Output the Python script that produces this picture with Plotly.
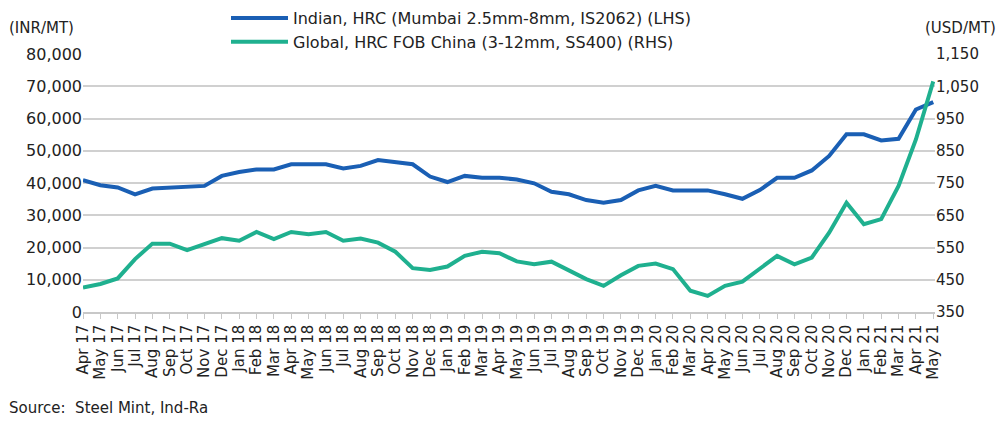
import plotly.graph_objects as go

months = ["Apr 17","May 17","Jun 17","Jul 17","Aug 17","Sep 17","Oct 17","Nov 17","Dec 17",
          "Jan 18","Feb 18","Mar 18","Apr 18","May 18","Jun 18","Jul 18","Aug 18","Sep 18","Oct 18","Nov 18","Dec 18",
          "Jan 19","Feb 19","Mar 19","Apr 19","May 19","Jun 19","Jul 19","Aug 19","Sep 19","Oct 19","Nov 19","Dec 19",
          "Jan 20","Feb 20","Mar 20","Apr 20","May 20","Jun 20","Jul 20","Aug 20","Sep 20","Oct 20","Nov 20","Dec 20",
          "Jan 21","Feb 21","Mar 21","Apr 21","May 21"]

indian_hrc = [40900, 39300, 38600, 36500, 38300, 38600, 38600, 39100, 42200, 43400,
              44200, 44200, 45800, 45800, 45800, 44500, 45300, 47100, 46500, 45800,
              42000, 40300, 42200, 41600, 41600, 41100, 39900, 37300, 36500, 34700,
              33900, 34700, 37700, 39100, 37700, 37700, 37700, 36500, 35100, 37800,
              41600, 41600, 43900, 48400, 55100, 55100, 53200, 53700, 62800, 65100]

global_hrc = [426, 437, 454, 514, 562, 562, 542, 562, 579, 571,
              598, 576, 598, 591, 598, 571, 578, 565, 537, 486,
              480, 491, 524, 537, 532, 507, 498, 506, 478, 452,
              431, 464, 493, 500, 483, 416, 400, 431, 444, 483,
              524, 498, 519, 596, 689, 622, 638, 741, 885, 1065]

left_ticks = list(range(0, 80001, 10000))
right_ticks = list(range(350, 1151, 100))

BLUE = "#1a5fb4"
GREEN = "#1fb08f"
FONT = "DejaVu Sans, Liberation Sans, Arial, sans-serif"
TXT = "#222222"

# plot area in pixels (for placing texts outside it)
PL, PR, PT, PB = 83, 935, 54, 312
W, H = 1001, 421

def px_x(px):
    return (px - PL) / (PR - PL)

def px_y(py):
    return (PB - py) / (PB - PT)

x_idx = list(range(len(months)))

fig = go.Figure()
fig.add_trace(go.Scatter(x=x_idx, y=indian_hrc, mode="lines",
                         name="Indian, HRC (Mumbai 2.5mm-8mm, IS2062) (LHS)",
                         line=dict(color=BLUE, width=4)))
fig.add_trace(go.Scatter(x=x_idx, y=global_hrc, mode="lines", yaxis="y2",
                         name="Global, HRC FOB China (3-12mm, SS400) (RHS)",
                         line=dict(color=GREEN, width=4)))

fig.update_layout(
    width=W, height=H,
    margin=dict(l=PL, r=W - PR, t=PT, b=H - PB, autoexpand=False),
    paper_bgcolor="white", plot_bgcolor="white",
    font=dict(family=FONT, size=15, color=TXT),
    showlegend=True,
    legend=dict(x=px_x(226), xanchor="left", y=px_y(1), yanchor="top",
                orientation="v",
                font=dict(family=FONT, size=16, color=TXT),
                itemwidth=57, tracegroupgap=0, bgcolor="rgba(0,0,0,0)"),
    xaxis=dict(
        range=[0, 49.1], automargin=False,
        tickmode="array", tickvals=x_idx, ticktext=months,
        tickangle=-90, tickfont=dict(family=FONT, size=15, color=TXT),
        showgrid=False, showline=True, linecolor="#c8c8c8", linewidth=1.5,
        ticks="outside", ticklen=5, tickcolor="#c8c8c8", tickwidth=1,
        zeroline=False, fixedrange=True,
    ),
    yaxis=dict(
        range=[0, 80000], tickmode="array", tickvals=left_ticks, automargin=False,
        tickformat=",", ticksuffix="\u2002\u2009", showgrid=True, gridcolor="#d0d0d0", gridwidth=1.5,
        zeroline=False, showline=False, ticks="",
        tickfont=dict(family=FONT, size=16, color=TXT),
    ),
    yaxis2=dict(
        range=[350, 1150], tickmode="array", tickvals=right_ticks, automargin=False,
        tickformat=",", tickprefix="\u2003\u2009", overlaying="y", side="right", showgrid=False,
        zeroline=False, showline=False, ticks="",
        tickfont=dict(family=FONT, size=15, color=TXT),
    ),
)

fig.add_annotation(text="(INR/MT)", x=px_x(7), y=px_y(28), xref="paper", yref="paper",
                   showarrow=False, xanchor="left", yanchor="middle",
                   font=dict(family=FONT, size=15, color=TXT))
fig.add_annotation(text="(USD/MT)", x=px_x(998), y=px_y(28), xref="paper", yref="paper",
                   showarrow=False, xanchor="right", yanchor="middle",
                   font=dict(family=FONT, size=15, color=TXT))
fig.add_annotation(text="Source:  Steel Mint, Ind-Ra", x=px_x(7), y=px_y(408), xref="paper", yref="paper",
                   showarrow=False, xanchor="left", yanchor="middle",
                   font=dict(family=FONT, size=15, color=TXT))

fig.write_html("out.html", config={"displayModeBar": False},
               post_script="document.body.style.margin='0';document.body.style.overflow='hidden';")
